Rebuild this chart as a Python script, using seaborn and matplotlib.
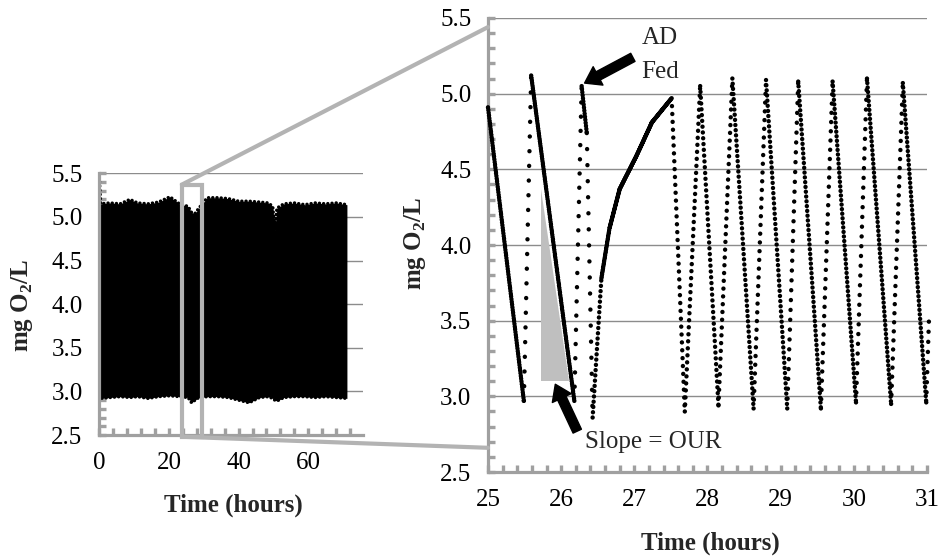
import numpy as np
import seaborn as sns
import matplotlib.pyplot as plt
from matplotlib.patches import Rectangle, ConnectionPatch
from matplotlib.ticker import MultipleLocator, FormatStrFormatter

# zoomed window: DO at each turning point of the feed cycles (hours, mg O2/L)
zoom_time = [25.00, 25.49, 25.59, 26.18, 26.28, 26.35, 26.43, 26.55, 26.66, 26.80,
             27.03, 27.24, 27.51, 27.69, 27.90, 28.15, 28.34, 28.63, 28.80, 29.09,
             29.24, 29.55, 29.71, 30.03, 30.18, 30.51, 30.67, 30.99, 31.03]
zoom_do = [4.91, 2.97, 5.12, 2.97, 5.05, 4.74, 2.86, 3.78, 4.11, 4.37,
           4.59, 4.81, 4.97, 2.90, 5.05, 2.94, 5.10, 2.92, 5.09, 2.92,
           5.08, 2.92, 5.08, 2.96, 5.10, 2.95, 5.07, 2.96, 3.55]

# whole run is too dense to pick points from, so keep its upper / lower outline
run_time = [0.0, 0.4, 3, 6, 8.8, 11, 14, 17, 20.3, 23, 25.5, 26.5, 27.5, 28.6, 31,
            34, 37, 40, 43, 46, 48.5, 49.8, 50.4, 51.0, 53, 56, 59, 62, 65, 68, 71.1]
run_do_max = [5.45, 5.15, 5.16, 5.15, 5.20, 5.16, 5.15, 5.17, 5.23, 5.15, 5.12, 5.05,
              5.04, 5.10, 5.22, 5.22, 5.21, 5.18, 5.18, 5.17, 5.16, 5.12, 4.85, 5.10,
              5.15, 5.16, 5.14, 5.16, 5.15, 5.16, 5.14]
run_do_min = [2.95, 2.92, 2.93, 2.94, 2.93, 2.94, 2.92, 2.94, 2.95, 2.94, 2.93, 2.87,
              2.90, 2.93, 2.94, 2.94, 2.93, 2.90, 2.87, 2.93, 2.94, 2.92, 2.90, 2.89,
              2.93, 2.94, 2.94, 2.93, 2.94, 2.93, 2.92]

# shaded triangle marking the OUR slope
slope_time = [25.73, 25.73, 26.11]
slope_do = [4.37, 3.10, 3.10]

# zoom box drawn on the full run
box_time = [23.7, 29.5]
box_do = [2.48, 5.37]

sns.set_theme(style="white")
plt.rcParams['font.family'] = ['Liberation Serif', 'DejaVu Serif']
plt.rcParams['mathtext.fontset'] = 'custom'
plt.rcParams['mathtext.rm'] = 'Liberation Serif'
plt.rcParams['mathtext.bf'] = 'Liberation Serif:bold'

AXIS_GREY = '#a0a0a0'
GRID_GREY = '#8c8c8c'
BOX_GREY = '#b3b3b3'
FS = 18

fig = plt.figure(figsize=(9.41, 5.59), dpi=100)
ax1 = fig.add_axes([0.1055, 0.2218, 0.2802, 0.4682])
ax2 = fig.add_axes([0.5186, 0.1556, 0.4665, 0.8122])


def style_axes(ax, xlim, xmajor, xminor):
    ax.set_xlim(*xlim)
    ax.set_ylim(2.5, 5.5)
    ax.xaxis.set_major_locator(MultipleLocator(xmajor))
    ax.xaxis.set_minor_locator(MultipleLocator(xminor))
    ax.yaxis.set_major_locator(MultipleLocator(0.5))
    ax.yaxis.set_minor_locator(MultipleLocator(0.1))
    ax.yaxis.set_major_formatter(FormatStrFormatter('%.1f'))
    for s in ['top', 'right']:
        ax.spines[s].set_visible(False)
    for s in ['left', 'bottom']:
        ax.spines[s].set_color(AXIS_GREY)
        ax.spines[s].set_linewidth(2.3)
        ax.spines[s].set_zorder(4)
    ax.tick_params(which='both', direction='in', color=AXIS_GREY, width=2.4,
                   length=5, bottom=True, left=True, top=False, right=False)
    ax.tick_params(which='major', labelsize=FS, labelcolor='black')
    ax.tick_params(axis='x', pad=12)
    ax.tick_params(axis='y', pad=12)
    ax.grid(axis='y', which='major', color=GRID_GREY, lw=1)
    ax.grid(axis='x', visible=False)
    ax.set_axisbelow(True)


style_axes(ax1, (0, 75.7), 20, 4)
style_axes(ax2, (25, 31), 1, 0.2)

# full run: a solid band of points
ax1.fill_between(run_time, run_do_min, run_do_max, color='black', lw=0, zorder=3)
for edge in [run_do_max, run_do_min]:
    ax1.plot(run_time, edge, color='black', lw=2.5, zorder=3,
             linestyle=(0, (0.01, 1.2)), dash_capstyle='round')

ax1.add_patch(Rectangle((box_time[0], box_do[0]), box_time[1] - box_time[0],
                        box_do[1] - box_do[0], fill=False, ec=BOX_GREY, lw=3,
                        clip_on=False, zorder=5))

# zoom window: logged points, spaced by the logging interval along each leg
ax2.fill(slope_time, slope_do, color='#bfbfbf', lw=0, zorder=2)
SAMPLE_H = 0.0045
DOT = 3.2
pts = ax2.transData.transform(np.column_stack([zoom_time, zoom_do]))
for i in range(len(zoom_time) - 1):
    seg_px = np.hypot(*(pts[i + 1] - pts[i]))
    n = (zoom_time[i + 1] - zoom_time[i]) / SAMPLE_H
    gap_pt = max(seg_px / n, 1.0) * 0.72
    sns.lineplot(x=zoom_time[i:i + 2], y=zoom_do[i:i + 2], ax=ax2, color='black',
                 lw=DOT, linestyle=(0, (0.01, gap_pt / DOT)),
                 dash_capstyle='round', clip_on=False, zorder=5)

ax2.annotate('', xy=(26.32, 5.07), xytext=(26.98, 5.24),
             arrowprops=dict(arrowstyle='simple,head_width=0.75,head_length=0.55,tail_width=0.33',
                             color='black', shrinkA=0, shrinkB=0, mutation_scale=20))
ax2.text(27.1, 5.37, 'AD', fontsize=FS, ha='left', va='center')
ax2.text(27.1, 5.145, 'Fed', fontsize=FS, ha='left', va='center')

ax2.annotate('', xy=(25.92, 3.08), xytext=(26.22, 2.77),
             arrowprops=dict(arrowstyle='simple,head_width=0.75,head_length=0.55,tail_width=0.33',
                             color='black', shrinkA=0, shrinkB=0, mutation_scale=20))
ax2.text(26.32, 2.70, 'Slope = OUR', fontsize=FS, ha='left', va='center')

# connector lines from the box to the zoomed axes
for ya, yb in [(box_do[1], 5.44), (box_do[0], 2.66)]:
    con = ConnectionPatch(xyA=(box_time[0], ya), coordsA=ax1.transData,
                          xyB=(25, yb), coordsB=ax2.transData,
                          color=BOX_GREY, lw=3, zorder=6)
    fig.add_artist(con)

ylab = r'mg O$_\mathbf{2}$/L'
fig.text(0.0234, 0.454, ylab, rotation=90, ha='center', va='center',
         fontsize=FS, fontweight='bold')
fig.text(0.441, 0.565, ylab, rotation=90, ha='center', va='center',
         fontsize=FS, fontweight='bold')
fig.text(0.2476, 0.0966, 'Time (hours)', ha='center', va='center',
         fontsize=FS, fontweight='bold')
fig.text(0.7545, 0.0286, 'Time (hours)', ha='center', va='center',
         fontsize=FS, fontweight='bold')

fig.savefig('out.png', dpi=100)
